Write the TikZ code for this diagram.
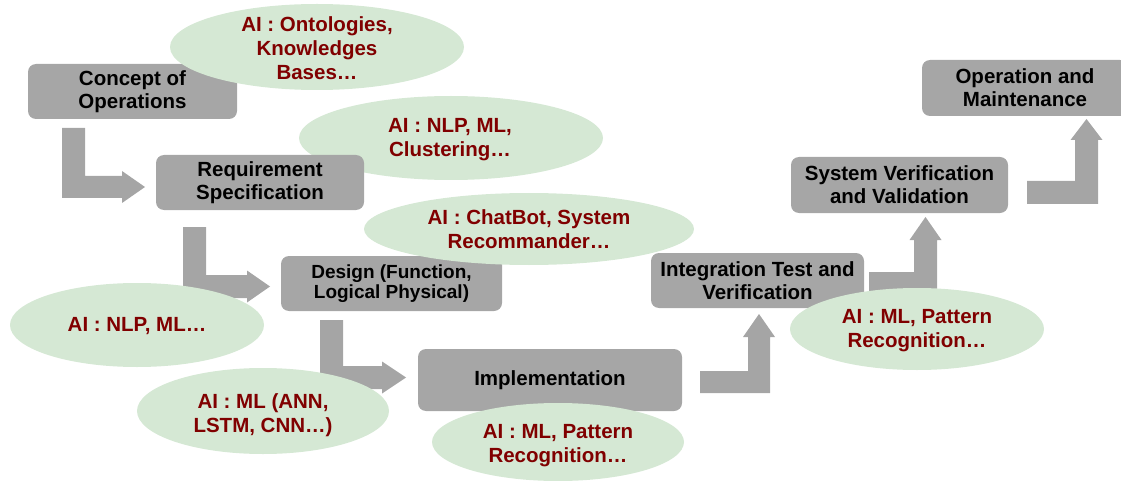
\documentclass[tikz,border=0pt]{standalone}
\usepackage{fontspec}
\setmainfont{Liberation Sans}
\usetikzlibrary{shapes.geometric}
\definecolor{boxgray}{RGB}{166,166,166}
\definecolor{arrgray}{RGB}{165,165,165}
\definecolor{aigreen}{RGB}{213,232,212}
\definecolor{aired}{RGB}{128,0,0}
\tikzset{
  stagebox/.style={draw=none, fill=boxgray, rounded corners=8pt, inner sep=0pt,
    align=center, font=\bfseries\fontsize{20.5}{23}\selectfont, text=black},
  aibubble/.style={ellipse, draw=none, fill=aigreen, inner sep=0pt},
  aitext/.style={align=center, font=\bfseries\fontsize{20.5}{24}\selectfont, text=aired, inner sep=0pt},
  blockarrow/.style={fill=arrgray, draw=none}
}
\begin{document}
\begin{tikzpicture}[x=1pt,y=-1pt]
\useasboundingbox (0,0) rectangle (1121,481);
\clip (0,0) rectangle (1121,481);

% bubble under the requirement box
\node[aibubble, minimum width=304pt, minimum height=84pt] (e2) at (451,138) {};
\node[aitext] (e2t) at (450,140) {AI : NLP, ML,\\Clustering…};

% stage boxes
\node[stagebox, minimum width=209pt, minimum height=55pt] (b1) at (132.5,91.5) {Concept of\\Operations};
\node[stagebox, minimum width=208pt, minimum height=55pt] (b2) at (260,182.5) {Requirement\\Specification};
\node[stagebox, minimum width=221pt, minimum height=55pt, font=\bfseries\fontsize{19}{20}\selectfont] (b3) at (391.5,283.5) {Design (Function,\\Logical Physical)};
\node[stagebox, minimum width=264pt, minimum height=62pt] (b4) at (550,380) {Implementation};
\node[stagebox, minimum width=213pt, minimum height=55pt] (b5) at (757.5,280.5) {Integration Test and\\Verification};
\node[stagebox, minimum width=217pt, minimum height=56pt] (b6) at (899.5,185) {System Verification\\and Validation};
\node[stagebox, minimum width=206pt, minimum height=56pt] (b7) at (1025,88) {Operation and\\Maintenance};

% bent block arrows
\fill[blockarrow] (62,128) -- (85,128) -- (85,176) -- (122,176) -- (122,171) -- (145,187) -- (122,203) -- (122,198) -- (62,198) -- cycle;
\fill[blockarrow] (183,227) -- (206,227) -- (206,275) -- (247,275) -- (247,270.5) -- (270,286.5) -- (247,302.5) -- (247,298) -- (183,298) -- cycle;
\fill[blockarrow] (320,320) -- (343,320) -- (343,366) -- (382,366) -- (382,361.5) -- (406,377.5) -- (382,393.5) -- (382,389) -- (320,389) -- cycle;
\fill[blockarrow] (700,393) -- (770,393) -- (770,337) -- (775,337) -- (759,314) -- (743,337) -- (748,337) -- (748,371) -- (700,371) -- cycle;
\fill[blockarrow] (869,295) -- (937,295) -- (937,240) -- (941.5,240) -- (925.5,217) -- (909.5,240) -- (914,240) -- (914,272) -- (869,272) -- cycle;
\fill[blockarrow] (1027,204) -- (1098,204) -- (1098,140) -- (1102.5,140) -- (1086.5,119) -- (1070.5,140) -- (1075,140) -- (1075,181) -- (1027,181) -- cycle;

% AI bubbles on top
\node[aibubble, minimum width=294pt, minimum height=86pt] (e1) at (317,47) {};
\node[aitext] (e1t) at (317,48) {AI : Ontologies,\\Knowledges\\Bases…};
\node[aibubble, minimum width=330pt, minimum height=72pt] (e3) at (529,229) {};
\node[aitext] (e3t) at (529,229) {AI : ChatBot, System\\Recommander…};
\node[aibubble, minimum width=254pt, minimum height=84pt] (e4) at (137,325) {};
\node[aitext] (e4t) at (137,326) {AI : NLP, ML…};
\node[aibubble, minimum width=252pt, minimum height=86pt] (e5) at (263,411) {};
\node[aitext] (e5t) at (263,415) {AI : ML (ANN,\\LSTM, CNN…)};
\node[aibubble, minimum width=252pt, minimum height=78pt] (e6) at (558,442) {};
\node[aitext] (e6t) at (558,446) {AI : ML, Pattern\\Recognition…};
\node[aibubble, minimum width=254pt, minimum height=82pt] (e7) at (917,329) {};
\node[aitext] (e7t) at (917,331) {AI : ML, Pattern\\Recognition…};
\end{tikzpicture}
\end{document}
